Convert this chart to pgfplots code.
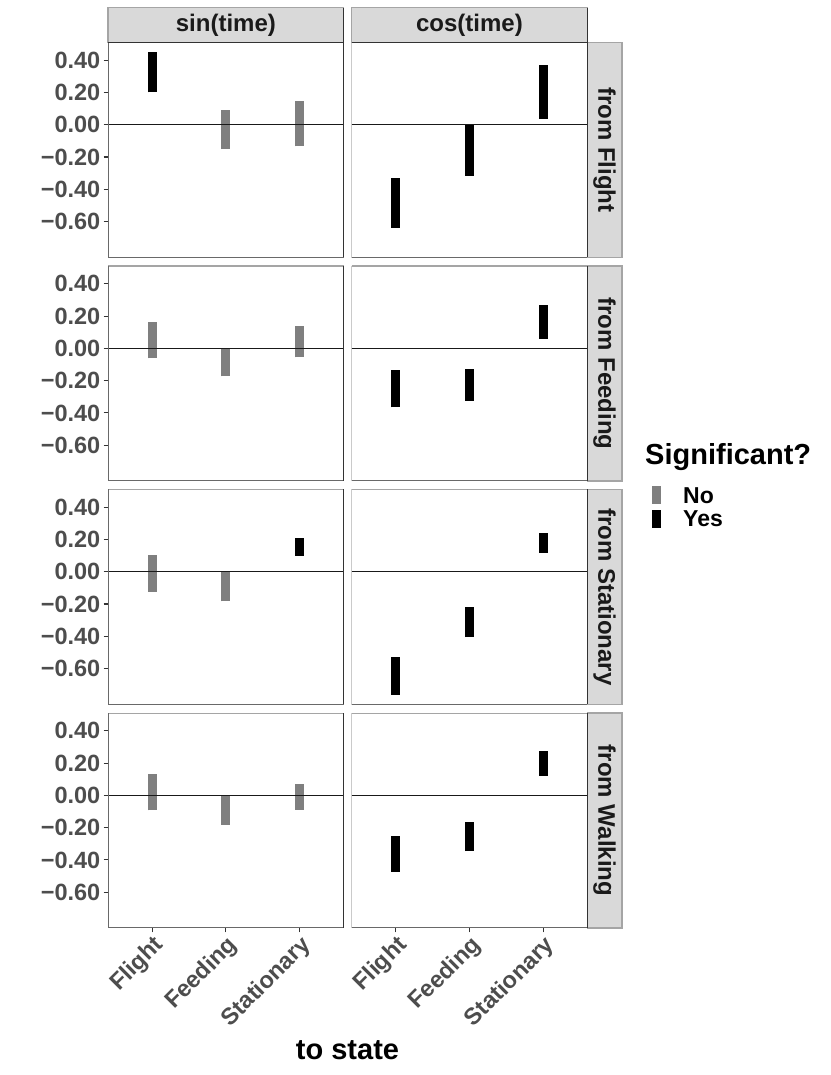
\documentclass[border=0pt]{standalone}
\usepackage{pgfplots}
\pgfplotsset{compat=1.18}
\usepackage{fontspec}
\setmainfont{Liberation Sans}
\definecolor{nsgray}{RGB}{127,127,127}
\definecolor{ticktext}{RGB}{77,77,77}
\definecolor{stripfill}{RGB}{217,217,217}
\definecolor{dk}{RGB}{51,51,51}
\definecolor{md}{RGB}{105,105,105}
\definecolor{lt}{RGB}{165,165,165}
\definecolor{striptext}{RGB}{26,26,26}

\newcommand{\tickfont}{\fontsize{23.5}{23.5}\selectfont\bfseries}
\newcommand{\stripfont}{\fontsize{24}{24}\selectfont\bfseries}

\pgfplotsset{
  panel/.style={
    scale only axis, width=235.8pt, height=215pt,
    xmin=0.4, xmax=3.6, ymin=-0.822, ymax=0.511,
    axis line style={draw=none},
    tick align=outside, major tick length=4.5pt,
    tick style={dk, line width=1.1pt},
    xtick pos=bottom, ytick pos=left,
    xtick=\empty, ytick=\empty,
    ticklabel style={font=\tickfont, text=ticktext},
    yticklabel style={inner xsep=3pt},
    anchor=south west,
  },
  leftcol/.style={
    ytick={-0.6,-0.4,-0.2,0,0.2,0.4},
    yticklabels={−0.60,−0.40,−0.20,0.00,0.20,0.40},
  },
  bottomrow/.style={
    xtick={1,2,3},
    xticklabels={Flight,Feeding,Stationary},
    xticklabel style={rotate=45, anchor=north east, inner sep=1pt},
  },
  ns/.style={draw=nsgray, line width=9pt},
  sg/.style={draw=black, line width=9pt},
  zero/.style={draw=black!90, line width=1.3pt},
}

\newcommand{\panelframe}{%
  \draw[lt, line width=1.3pt] (rel axis cs:0,1) -- (rel axis cs:1,1);
  \draw[md, line width=1.3pt] (rel axis cs:0,1) -- (rel axis cs:0,0) -- (rel axis cs:1,0);
  \draw[dk, line width=1.3pt] (rel axis cs:1,1) -- (rel axis cs:1,0);
}

\begin{document}
\begin{tikzpicture}
\useasboundingbox (0pt,0pt) rectangle (830pt,1075pt);

% ---------- Row 1: from Flight ----------
\begin{axis}[panel, leftcol, at={(108pt,817.7pt)}]
\addplot[sg] coordinates {(1,0.20) (1,0.451)};
\addplot[ns] coordinates {(2,-0.151) (2,0.092)};
\addplot[ns] coordinates {(3,-0.135) (3,0.149)};
\addplot[zero] coordinates {(0.4,0) (3.6,0)};
\panelframe
\end{axis}
\begin{axis}[panel, at={(351.5pt,817.7pt)}]
\addplot[sg] coordinates {(1,-0.640) (1,-0.331)};
\addplot[sg] coordinates {(2,-0.315) (2,0.0)};
\addplot[sg] coordinates {(3,0.037) (3,0.371)};
\addplot[zero] coordinates {(0.4,0) (3.6,0)};
\panelframe
\end{axis}

% ---------- Row 2: from Feeding ----------
\begin{axis}[panel, leftcol, at={(108pt,594pt)}]
\addplot[ns] coordinates {(1,-0.061) (1,0.163)};
\addplot[ns] coordinates {(2,-0.173) (2,0.0)};
\addplot[ns] coordinates {(3,-0.055) (3,0.139)};
\addplot[zero] coordinates {(0.4,0) (3.6,0)};
\panelframe
\end{axis}
\begin{axis}[panel, at={(351.5pt,594pt)}]
\addplot[sg] coordinates {(1,-0.365) (1,-0.135)};
\addplot[sg] coordinates {(2,-0.324) (2,-0.127)};
\addplot[sg] coordinates {(3,0.059) (3,0.267)};
\addplot[zero] coordinates {(0.4,0) (3.6,0)};
\panelframe
\end{axis}

% ---------- Row 3: from Stationary ----------
\begin{axis}[panel, leftcol, at={(108pt,370.7pt)}]
\addplot[ns] coordinates {(1,-0.124) (1,0.102)};
\addplot[ns] coordinates {(2,-0.184) (2,0.0)};
\addplot[sg] coordinates {(3,0.098) (3,0.212)};
\addplot[zero] coordinates {(0.4,0) (3.6,0)};
\panelframe
\end{axis}
\begin{axis}[panel, at={(351.5pt,370.7pt)}]
\addplot[sg] coordinates {(1,-0.762) (1,-0.527)};
\addplot[sg] coordinates {(2,-0.406) (2,-0.220)};
\addplot[sg] coordinates {(3,0.118) (3,0.237)};
\addplot[zero] coordinates {(0.4,0) (3.6,0)};
\panelframe
\end{axis}

% ---------- Row 4: from Walking ----------
\begin{axis}[panel, leftcol, bottomrow, at={(108pt,147pt)}]
\addplot[ns] coordinates {(1,-0.092) (1,0.133)};
\addplot[ns] coordinates {(2,-0.182) (2,0.0)};
\addplot[ns] coordinates {(3,-0.088) (3,0.072)};
\addplot[zero] coordinates {(0.4,0) (3.6,0)};
\panelframe
\end{axis}
\begin{axis}[panel, bottomrow, at={(351.5pt,147pt)}]
\addplot[sg] coordinates {(1,-0.473) (1,-0.249)};
\addplot[sg] coordinates {(2,-0.345) (2,-0.167)};
\addplot[sg] coordinates {(3,0.122) (3,0.277)};
\addplot[zero] coordinates {(0.4,0) (3.6,0)};
\panelframe
\end{axis}

% ---------- Top strips ----------
\draw[fill=stripfill, draw=lt, line width=1.1pt] (108pt,1032.7pt) rectangle (343.8pt,1067.3pt);
\node[font=\stripfont, text=striptext] at (225.9pt,1050pt) {sin(time)};
\draw[fill=stripfill, draw=lt, line width=1.1pt] (351.5pt,1032.7pt) rectangle (587.3pt,1067.3pt);
\node[font=\stripfont, text=striptext] at (469.4pt,1050pt) {cos(time)};
\draw[dk, line width=1.3pt] (108pt,1032.7pt) -- (343.8pt,1032.7pt);
\draw[dk, line width=1.3pt] (351.5pt,1032.7pt) -- (587.3pt,1032.7pt);
\draw[dk, line width=1.1pt] (343.8pt,1032.7pt) -- (343.8pt,1067.3pt);
\draw[dk, line width=1.1pt] (587.3pt,1032.7pt) -- (587.3pt,1067.3pt);

% ---------- Right strips ----------
\foreach \yb/\lab in {817.7/from Flight, 594/from Feeding, 370.7/from Stationary, 147/from Walking}{
  \draw[fill=stripfill, draw=lt, line width=1.1pt] (587.3pt,\yb pt) rectangle (622pt,\yb pt+215pt);
  \draw[dk, line width=1.3pt] (587.3pt,\yb pt) -- (587.3pt,\yb pt+215pt);
  \node[font=\stripfont, text=striptext, rotate=-90] at (604.6pt,\yb pt+107.5pt) {\lab};
}

% ---------- Axis title ----------
\node[font=\fontsize{29}{29}\selectfont\bfseries] at (347.5pt,25pt) {to state};

% ---------- Legend ----------
\node[anchor=base west, inner sep=0pt, font=\fontsize{29}{29}\selectfont\bfseries] at (645pt,610pt) {Significant?};
\fill[nsgray] (651.7pt,571pt) rectangle (660.7pt,589pt);
\fill[black] (651.7pt,547.3pt) rectangle (660.7pt,565pt);
\node[anchor=base west, inner sep=0pt, font=\fontsize{23}{23}\selectfont\bfseries] at (683pt,571pt) {No};
\node[anchor=base west, inner sep=0pt, font=\fontsize{23}{23}\selectfont\bfseries] at (683pt,548pt) {Yes};
\end{tikzpicture}
\end{document}
